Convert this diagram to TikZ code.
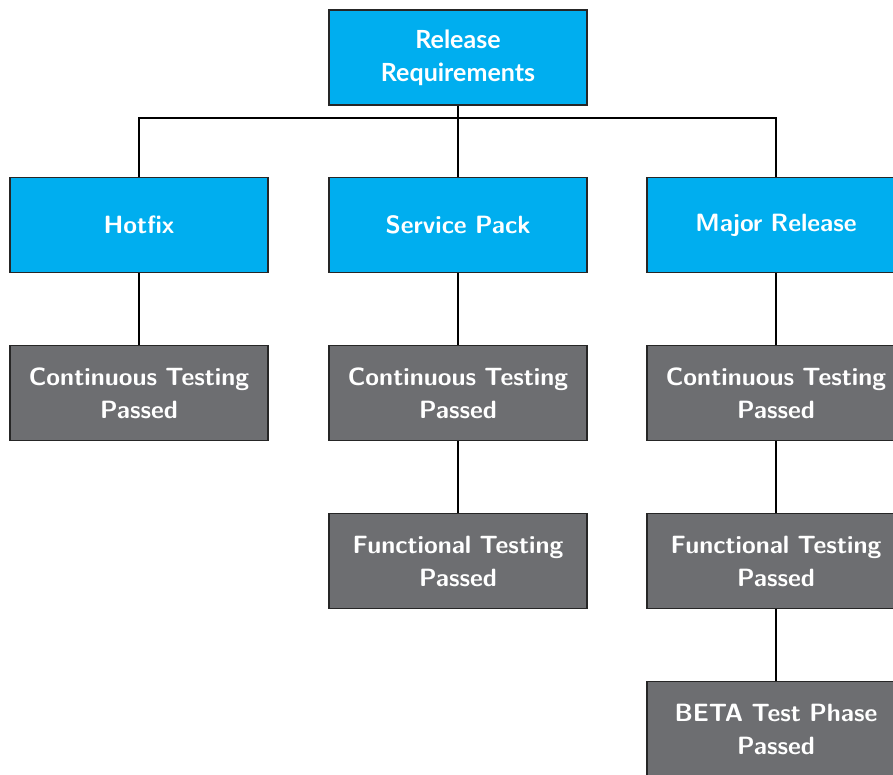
\documentclass[tikz,border=0pt]{standalone}
\usepackage{fontspec}
\newfontfamily\latofont{Lato}
\definecolor{boxcyan}{HTML}{00AEEF}
\definecolor{boxgray}{HTML}{6D6E71}
\begin{document}
\begin{tikzpicture}[x=1pt,y=-1pt,
  basebox/.style={draw=black!85, line width=1.3pt, minimum width=258pt, minimum height=95pt,
    text width=250pt, align=center, text=white, inner sep=0pt, font=\fontsize{25}{33}\sffamily\bfseries},
  cbox/.style={basebox, fill=boxcyan},
  gbox/.style={basebox, fill=boxgray},
  conn/.style={line width=1.6pt, black}]
\useasboundingbox (0,0) rectangle (893,774);
\node[cbox, font=\fontsize{25}{33}\latofont\bfseries] (root) at (458,57.5) {Release\\Requirements};
\node[cbox] (hot) at (139,225) {Hotfix};
\node[cbox] (sp) at (458,225) {Service Pack};
\node[cbox] (maj) at (776,225) {Major Release};
\node[gbox] (hot2) at (139,393) {Continuous Testing\\Passed};
\node[gbox] (sp2) at (458,393) {Continuous Testing\\Passed};
\node[gbox] (maj2) at (776,393) {Continuous Testing\\Passed};
\node[gbox] (sp3) at (458,561) {Functional Testing\\Passed};
\node[gbox] (maj3) at (776,561) {Functional Testing\\Passed};
\node[gbox] (maj4) at (776,729) {BETA Test Phase\\Passed};
\coordinate (bus) at (458,118);
\draw[conn] (root.south) -- (bus);
\draw[conn] (hot.north) -- (hot.north |- bus) -- (maj.north |- bus) -- (maj.north);
\draw[conn] (sp.north) -- (bus);
\draw[conn] (hot.south) -- (hot2.north);
\draw[conn] (sp.south) -- (sp2.north);
\draw[conn] (maj.south) -- (maj2.north);
\draw[conn] (sp2.south) -- (sp3.north);
\draw[conn] (maj2.south) -- (maj3.north);
\draw[conn] (maj3.south) -- (maj4.north);
\end{tikzpicture}
\end{document}
